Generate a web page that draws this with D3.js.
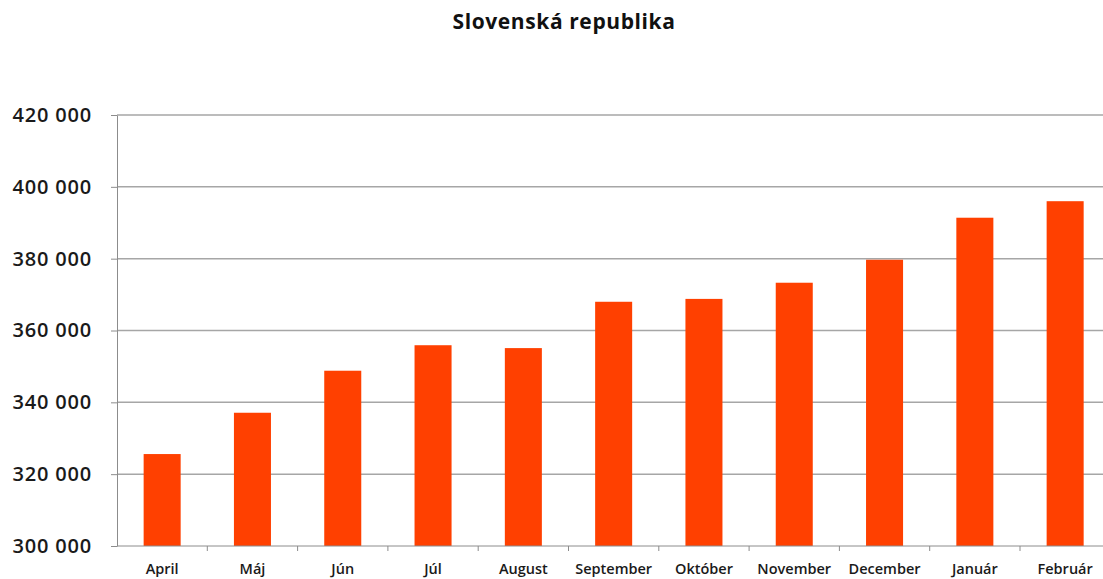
<!DOCTYPE html>
<html>
<head>
<meta charset="utf-8">
<script src="https://cdn.jsdelivr.net/npm/d3@7"></script>
<style>
  body { margin: 0; background: #fff; }
  svg { display: block; font-family: "Open Sans", sans-serif; }
  .grid line { stroke: #a6a6a6; stroke-width: 1.5; }
  .axis path, .axis line { stroke: #8c8c8c; }
</style>
</head>
<body>
<svg id="chart" width="1103" height="579"></svg>
<script>
// data
const months = ["April", "Máj", "Jún", "Júl", "August", "September", "Október",
  "November", "December", "Január", "Február"];
const values = [325600, 337100, 348800, 355900, 355100, 368000, 368800,
  373300, 379700, 391400, 396000];
const yTicks = [300000, 320000, 340000, 360000, 380000, 400000, 420000];
const title = "Slovenská republika";

const svg = d3.select("#chart");
const margin = {top: 115, left: 117, bottom: 33};
const H = 579;
const step = 90.3;

const x = d3.scaleBand()
  .domain(months)
  .range([margin.left, margin.left + step * months.length])
  .paddingInner(0.59)
  .paddingOuter(0.295);

const y = d3.scaleLinear()
  .domain([300000, 420000])
  .range([H - margin.bottom, margin.top]);

const fmt = d => d3.format(",")(d).replace(/,/g, " ");

// title
svg.append("text")
  .attr("x", 564).attr("y", 29)
  .attr("text-anchor", "middle")
  .style("font-weight", "bold")
  .style("font-size", "21px")
  .style("letter-spacing", "0.6px")
  .attr("fill", "#111")
  .text(title);

// gridlines
svg.append("g").attr("class", "grid")
  .selectAll("line")
  .data(yTicks.slice(1))
  .enter().append("line")
  .attr("x1", margin.left).attr("x2", 1103)
  .attr("y1", d => y(d)).attr("y2", d => y(d));

// bars
svg.append("g").selectAll("rect")
  .data(values)
  .enter().append("rect")
  .attr("x", (d, i) => x(months[i]))
  .attr("y", d => y(d))
  .attr("width", x.bandwidth())
  .attr("height", d => y(300000) - y(d))
  .attr("fill", "#ff4000");

// y axis
const yAxis = svg.append("g").attr("class", "axis")
  .attr("transform", `translate(${margin.left},0)`)
  .call(d3.axisLeft(y).tickValues(yTicks).tickFormat(fmt).tickSize(6).tickSizeOuter(0));
yAxis.selectAll("text")
  .attr("x", -25)
  .style("font-family", "'Open Sans', sans-serif")
  .style("font-size", "20px")
  .style("letter-spacing", "0.8px")
  .style("font-weight", "600")
  .attr("fill", "#1a1a1a");

// x axis: ticks between categories
const xAxis = svg.append("g").attr("class", "axis")
  .attr("transform", `translate(0,${y(300000)})`);
xAxis.append("line")
  .attr("x1", margin.left).attr("x2", 1103)
  .attr("y1", 0).attr("y2", 0);
xAxis.selectAll(".tk")
  .data(months.slice(1))
  .enter().append("line")
  .attr("class", "tk")
  .attr("x1", d => x(d) - x.step() * x.paddingInner() / 2)
  .attr("x2", d => x(d) - x.step() * x.paddingInner() / 2)
  .attr("y1", 0).attr("y2", 5);
xAxis.selectAll(".lbl")
  .data(months)
  .enter().append("text")
  .attr("class", "lbl")
  .attr("x", d => x(d) + x.bandwidth() / 2)
  .attr("y", 28)
  .attr("text-anchor", "middle")
  .style("font-size", "14.5px")
  .style("font-weight", "600")
  .attr("fill", "#1a1a1a")
  .text(d => d);
</script>
</body>
</html>
